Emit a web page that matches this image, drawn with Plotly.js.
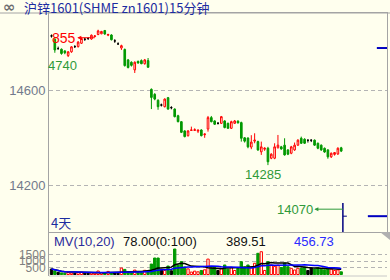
<!DOCTYPE html>
<html><head><meta charset="utf-8">
<script src="https://cdn.plot.ly/plotly-3.0.1.min.js"></script>
<style>html,body{margin:0;padding:0;background:#ffffee;} #chart{width:390px;height:280px;}</style>
</head><body><div id="chart"></div>
<script>
// ---- data ----
const opens  = [14829,14815,14775,14773,14766,14746,14762,14784,14784,14798,14815,14818,14816,14826,14835,14838,14852,14832,14833,14808,14795,14778,14772,14728,14718,14686,14722,14725,14712,14725,14604,14583,14558,14538,14531,14569,14527,14521,14493,14468,14429,14409,14431,14431,14428,14433,14413,14437,14485,14471,14461,14461,14471,14461,14440,14461,14470,14464,14400,14399,14361,14386,14384,14341,14352,14356,14314,14314,14358,14362,14369,14349,14335,14349,14369,14398,14394,14390,14390,14390,14377,14369,14356,14349,14320,14330,14332,14358];
const highs  = [14835,14820,14784,14776,14768,14765,14786,14790,14807,14822,14821,14824,14835,14832,14855,14850,14853,14838,14836,14815,14802,14792,14776,14732,14722,14722,14725,14730,14732,14736,14608,14588,14562,14544,14566,14572,14533,14524,14497,14470,14432,14432,14447,14440,14435,14436,14418,14492,14492,14474,14466,14492,14474,14464,14472,14475,14474,14468,14403,14402,14411,14419,14388,14384,14360,14362,14335,14377,14412,14366,14398,14352,14366,14380,14394,14405,14398,14391,14392,14393,14380,14372,14359,14352,14338,14340,14360,14362];
const lows   = [14822,14758,14775,14750,14752,14740,14758,14778,14780,14795,14808,14812,14813,14824,14832,14836,14834,14828,14810,14800,14795,14770,14700,14692,14700,14673,14712,14710,14708,14695,14521,14558,14518,14532,14528,14518,14520,14486,14465,14420,14402,14405,14430,14429,14420,14406,14400,14426,14465,14454,14456,14458,14440,14438,14437,14458,14460,14384,14380,14356,14352,14377,14345,14328,14345,14285,14310,14310,14355,14350,14325,14327,14331,14345,14366,14374,14374,14380,14382,14366,14352,14345,14337,14312,14315,14325,14328,14340];
const closes = [14829,14770,14775,14755,14758,14762,14783,14784,14803,14818,14815,14818,14832,14829,14850,14848,14837,14835,14813,14808,14795,14788,14704,14696,14705,14718,14715,14712,14728,14697,14570,14563,14531,14538,14563,14521,14527,14489,14468,14423,14405,14429,14433,14434,14432,14409,14416,14485,14468,14457,14461,14489,14443,14440,14468,14471,14463,14398,14386,14362,14382,14390,14349,14362,14356,14299,14331,14362,14369,14353,14328,14331,14362,14369,14390,14377,14377,14390,14390,14369,14356,14349,14340,14320,14335,14338,14356,14344];
const volumes = [410,260,160,120,90,150,110,80,140,170,100,90,120,100,260,150,120,230,110,130,90,480,380,200,150,330,160,140,310,240,780,1230,1230,350,300,630,280,1900,700,960,560,420,180,250,200,300,350,1150,500,580,300,460,710,400,535,300,460,955,580,710,535,835,1580,1700,300,955,710,600,700,525,850,580,460,335,460,480,550,300,500,420,520,380,350,480,400,300,345,200];
const priceTicks = [14200, 14600];
const volTicks = [500, 1000, 1500];
const titleText = '沪锌1601(SHME zn1601)15分钟';
const panelLabel = '4天';
const mvTexts = ['MV(10,20)', '78.00(0:100)', '389.51', '456.73'];
const markLevels = [14778, 14070];
const hiLabel = '855';
const loLeftLabel = '4740';
const loLabel = '14285';
const targetLabel = '14070';

// ---- derived ----
const n = opens.length;
const idx = opens.map((_, i) => i);
const RED = '#ff0000', GREEN = '#009900', BLACK = '#000000', BG = '#ffffee';
const kind = idx.map(i => closes[i] > opens[i] ? 'up' : (closes[i] < opens[i] ? 'dn' : 'eq'));
function pick(k) {
  const s = idx.filter(i => kind[i] === k);
  return { x: s, open: s.map(i => opens[i]), high: s.map(i => highs[i]), low: s.map(i => lows[i]), close: s.map(i => closes[i]) };
}
function ma(p) { return idx.map(i => { const a = volumes.slice(Math.max(0, i - p + 1), i + 1); return a.reduce((s, v) => s + v, 0) / a.length; }); }

const W = 390, H = 280, L = 49, R = 3, T = 13, B = 4;
const pw = W - L - R, ph = H - T - B;
const px = v => (v - L) / pw;
const py = v => (H - B - v) / ph;
const split = py(232);

const traces = [];
[['up', RED, BG], ['dn', GREEN, GREEN], ['eq', BLACK, BLACK]].forEach(([k, c, f]) => {
  const d = pick(k);
  traces.push(Object.assign({ type: 'candlestick', xaxis: 'x', yaxis: 'y', hoverinfo: 'skip', whiskerwidth: 0,
    increasing: { line: { color: c, width: 1 }, fillcolor: f },
    decreasing: { line: { color: c, width: 1 }, fillcolor: f } }, d));
});
traces.push({ type: 'bar', x: idx, y: volumes, xaxis: 'x', yaxis: 'y2', width: 0.7, hoverinfo: 'skip',
  marker: { color: kind.map(k => k === 'up' ? BG : (k === 'dn' ? GREEN : BLACK)),
            line: { color: kind.map(k => k === 'up' ? RED : (k === 'dn' ? GREEN : BLACK)), width: 1 } } });
traces.push({ type: 'scatter', mode: 'lines', x: idx, y: ma(10), xaxis: 'x', yaxis: 'y2', line: { color: '#000000', width: 1.5 }, hoverinfo: 'skip' });
traces.push({ type: 'scatter', mode: 'lines', x: idx, y: ma(20), xaxis: 'x', yaxis: 'y2', line: { color: '#0000ff', width: 1.5 }, hoverinfo: 'skip' });

const maxHigh = Math.max(...highs), iHigh = highs.indexOf(maxHigh);
const minLow = Math.min(...lows), iLow = lows.indexOf(minLow);
const firstLows = lows.slice(0, 12), minLeft = Math.min(...firstLows), iLeft = firstLows.indexOf(minLeft);
const xEnd = n - 0.5;

const ann = [
  { xref: 'paper', yref: 'paper', x: px(2), y: py(7), xanchor: 'left', yanchor: 'middle', showarrow: false, borderpad: 0, text: '<b>∞</b>', font: { family: 'DejaVu Sans', size: 15, color: '#6e6e6e' } },
  { xref: 'paper', yref: 'paper', x: px(23), y: py(7), xanchor: 'left', yanchor: 'middle', showarrow: false, borderpad: 0, text: titleText, font: { family: 'Noto Sans CJK SC', size: 13, color: '#1c2ca0' } },
  { xref: 'x', yref: 'y', x: iHigh - 1, y: maxHigh, yshift: -8, ax: -31, ay: 0, showarrow: true, arrowside: 'start', startarrowhead: 2, startarrowsize: 0.8, arrowwidth: 1, arrowcolor: RED, text: hiLabel, font: { family: 'Liberation Sans', size: 14, color: RED } },
  { xref: 'x', yref: 'y', x: iLeft, y: minLeft, xshift: -6, yshift: -8, showarrow: false, text: loLeftLabel, font: { family: 'Liberation Sans', size: 13, color: '#2f9a3a' } },
  { xref: 'x', yref: 'y', x: iLow, y: minLow, xshift: -5, yshift: -9, showarrow: false, text: loLabel, font: { family: 'Liberation Sans', size: 13, color: '#2f9a3a' } },
  { xref: 'x', yref: 'y', x: xEnd, y: markLevels[1], yshift: 7, ax: -48, ay: 0, showarrow: true, arrowside: 'start', startarrowhead: 2, startarrowsize: 0.8, arrowwidth: 1, arrowcolor: '#2f9a3a', text: targetLabel, font: { family: 'Liberation Sans', size: 13, color: '#2f9a3a' } },
  { xref: 'paper', yref: 'paper', x: px(49), y: py(222), xanchor: 'left', yanchor: 'middle', showarrow: false, text: panelLabel, font: { family: 'Noto Sans CJK SC', size: 13, color: '#1c2ca0' } },
  { xref: 'paper', yref: 'paper', x: px(52), y: py(241), xanchor: 'left', yanchor: 'middle', showarrow: false, text: mvTexts[0], font: { family: 'Liberation Sans', size: 13, color: '#2b2b9b' } },
  { xref: 'paper', yref: 'paper', x: px(121), y: py(241), xanchor: 'left', yanchor: 'middle', showarrow: false, text: mvTexts[1], font: { family: 'Liberation Sans', size: 13, color: '#111111' } },
  { xref: 'paper', yref: 'paper', x: px(224), y: py(241), xanchor: 'left', yanchor: 'middle', showarrow: false, text: mvTexts[2], font: { family: 'Liberation Sans', size: 13, color: '#111111' } },
  { xref: 'paper', yref: 'paper', x: px(292), y: py(241), xanchor: 'left', yanchor: 'middle', showarrow: false, text: mvTexts[3], font: { family: 'Liberation Sans', size: 13, color: '#2b2bff' } }
];

const GRAY = '#a4a4a4';
const shapes = [
  { type: 'line', xref: 'paper', yref: 'paper', x0: px(0), x1: px(390), y0: 1, y1: 1, line: { color: GRAY, width: 1 } },
  { type: 'line', xref: 'paper', yref: 'paper', x0: 0, x1: 1, y0: 0, y1: 0, line: { color: '#c8c8c8', width: 1 } },
  { type: 'line', xref: 'x', yref: 'paper', x0: xEnd, x1: xEnd, y0: split, y1: py(203), line: { color: '#000080', width: 1.5 } },
  { type: 'line', xref: 'x', yref: 'y', x0: xEnd, x1: xEnd + 1.2, y0: markLevels[1], y1: markLevels[1], line: { color: '#000080', width: 1 } },
  { type: 'line', xref: 'x', yref: 'y', x0: 95, x1: 100.75, y0: markLevels[1], y1: markLevels[1], line: { color: '#0000c0', width: 2 } },
  { type: 'line', xref: 'x', yref: 'y', x0: 97.7, x1: 100.75, y0: markLevels[0], y1: markLevels[0], line: { color: '#0000c0', width: 2 } },
  { type: 'path', xref: 'paper', yref: 'paper', path: `M ${px(380)} ${py(232)} L ${px(390)} ${py(232)} L ${px(390)} ${py(240)} Z`, fillcolor: '#b0b0b0', line: { width: 0 } }
];

const tickFont = { family: 'Liberation Sans', size: 13, color: '#727a8c' };
const layout = {
  width: W, height: H, margin: { l: L, r: R, t: T, b: B },
  paper_bgcolor: BG, plot_bgcolor: BG, showlegend: false, hovermode: false, dragmode: false,
  xaxis: { type: 'linear', range: [-0.75, 100.75], anchor: 'y', showgrid: false, zeroline: false, showticklabels: false, ticks: '',
           showline: true, linecolor: GRAY, linewidth: 1, mirror: true, rangeslider: { visible: false }, fixedrange: true },
  yaxis: { domain: [split, 1], range: [14003.4, 14925.5], tickvals: priceTicks, ticktext: priceTicks.map(String), ticks: '',
           showgrid: true, gridcolor: '#b4b4b4', griddash: '4px,3px', gridwidth: 1, zeroline: false,
           showline: true, linecolor: GRAY, linewidth: 1, mirror: true, tickfont: tickFont, fixedrange: true },
  yaxis2: { domain: [0, split], range: [-112, 3171], anchor: 'x', tickvals: volTicks, ticktext: volTicks.map(String), ticks: '',
            showgrid: true, gridcolor: '#b4b4b4', griddash: '4px,3px', gridwidth: 1, zeroline: false,
            showline: true, linecolor: GRAY, linewidth: 1, tickfont: Object.assign({}, tickFont, { size: 12, color: '#808080' }), fixedrange: true },
  annotations: ann, shapes: shapes
};
Plotly.newPlot('chart', traces, layout, { staticPlot: true, displayModeBar: false });
</script></body></html>
